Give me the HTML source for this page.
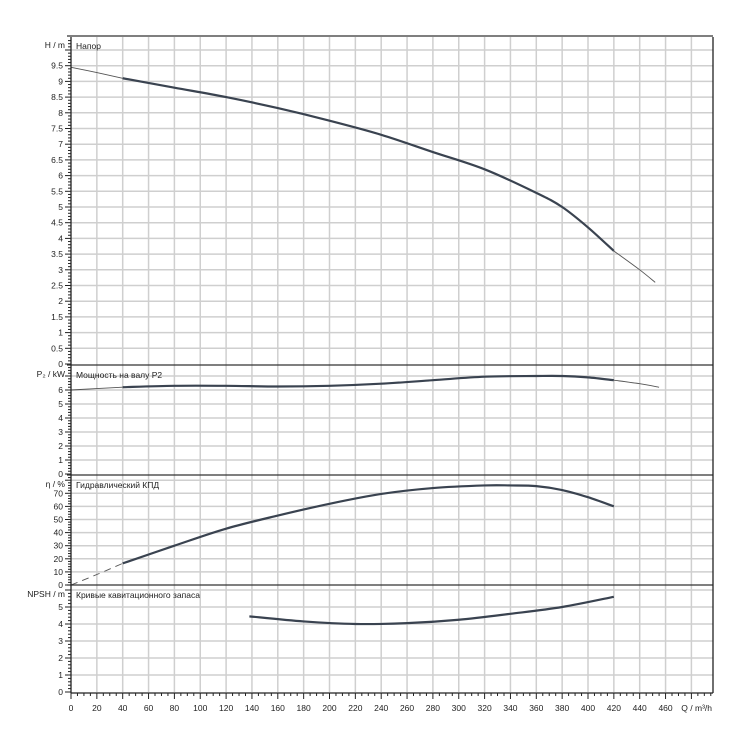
<!DOCTYPE html>
<html><head><meta charset="utf-8"><style>
body{margin:0;background:#fff}svg{display:block;font-family:"Liberation Sans",Arial,sans-serif}
</style></head><body>
<svg id="c" width="750" height="750"></svg>
<script>
const qTicks=[0,20,40,60,80,100,120,140,160,180,200,220,240,260,280,300,320,340,360,380,400,420,440,460];
const hQ=[0,20,40,80,120,160,200,240,280,320,360,380,400,420,440,452];
const hV=[9.45,9.28,9.1,8.8,8.5,8.15,7.75,7.3,6.75,6.2,5.45,5.0,4.35,3.6,3.0,2.6];
const pQ=[0,20,40,80,120,160,200,240,280,320,360,380,400,420,440,455];
const pV=[6.0,6.1,6.2,6.3,6.3,6.25,6.3,6.45,6.7,6.95,7.0,7.0,6.9,6.7,6.45,6.2];
const eQ=[0,20,40,80,120,160,200,240,280,320,340,360,380,400,420];
const eV=[0,8,16.5,30,43,53,62,69.5,74,76,76,75.5,72.5,67,60];
const nQ=[138,180,220,260,300,340,380,420];
const nV=[4.45,4.15,4.0,4.05,4.25,4.6,5.0,5.6];
const hTicks=[0,0.5,1,1.5,2,2.5,3,3.5,4,4.5,5,5.5,6,6.5,7,7.5,8,8.5,9,9.5];
const pTicks=[0,1,2,3,4,5,6];
const eTicks=[0,10,20,30,40,50,60,70];
const nTicks=[0,1,2,3,4,5];

const svg=document.getElementById('c');const NS='http://www.w3.org/2000/svg';
function mk(t,a,p){const e=document.createElementNS(NS,t);for(const k in a)e.setAttribute(k,a[k]);(p||svg).appendChild(e);return e;}
const X0=71,X1=713,KX=1.2925;const xs=q=>X0+q*KX;
const panels=[
 {name:'head',top:37,zero:364,k:31.4,ticks:hTicks,nm:5,grid:0.5,label:'Напор',ax:'H / m',Q:hQ,V:hV,a:40,b:420},
 {name:'power',top:366,zero:474,k:14,ticks:pTicks,nm:5,grid:1,label:'Мощность на валу P2',ax:'P₂ / kW',Q:pQ,V:pV,a:40,b:420},
 {name:'efficiency',top:476,zero:585,k:1.31,ticks:eTicks,nm:5,grid:10,label:'Гидравлический КПД',ax:'η / %',Q:eQ,V:eV,a:40,b:9999,dash:true},
 {name:'npsh',top:586,zero:692,k:17,ticks:nTicks,nm:5,grid:1,label:'Кривые кавитационного запаса',ax:'NPSH / m',Q:nQ,V:nV,a:0,b:9999}
];
function pathD(P){let d='M'+P[0][0]+','+P[0][1];
 for(let i=0;i<P.length-1;i++){const p0=P[i-1]||P[i],p1=P[i],p2=P[i+1],p3=P[i+2]||p2;
  const c1=[p1[0]+(p2[0]-p0[0])/6,p1[1]+(p2[1]-p0[1])/6],c2=[p2[0]-(p3[0]-p1[0])/6,p2[1]-(p3[1]-p1[1])/6];
  d+=' C'+c1.join(',')+' '+c2.join(',')+' '+p2.join(',');}return d;}
for(let q=20;q*KX+X0<X1;q+=20){const l=mk('line',{x1:xs(q),x2:xs(q),y1:37,y2:692,stroke:'#cfcfcf','stroke-width':1.5});
}
panels.forEach(p=>{
 const ys=v=>p.zero-v*p.k;
 const g=mk('g',{});
 for(let i=1;ys(i*p.grid)>p.top+2;i++){const y=ys(i*p.grid);mk('line',{x1:X0,x2:X1,y1:y,y2:y,stroke:'#cfcfcf','stroke-width':1.5},g);}
 for(let j=0;ys(j*p.grid/p.nm)>p.top+1;j++){const y=ys(j*p.grid/p.nm),big=j%p.nm===0;
  mk('line',{x1:X0-(big?6:3),x2:X0,y1:y,y2:y,stroke:'#222','stroke-width':1},g);}
 p.ticks.forEach(v=>{const t=mk('text',{x:X0-8,y:ys(v)+3,'text-anchor':'end','font-size':8.5,fill:'#222'},g);t.textContent=v;
  });
 const at=mk('text',{x:X0-6,y:p.top+11,'text-anchor':'end','font-size':8.5,fill:'#222'},g);at.textContent=p.ax;
 
 const lt=mk('text',{x:X0+5,y:p.top+12,'font-size':8.5,fill:'#222'},g);lt.textContent=p.label;
 
 mk('line',{x1:X0-4,x2:X1,y1:p.top-1,y2:p.top-1,stroke:'#333','stroke-width':1.3},g);
 const pts=p.Q.map((q,i)=>[xs(q),ys(p.V[i])]);
 const ia=p.Q.findIndex(q=>q>=p.a),ibRaw=p.Q.findIndex(q=>q>=p.b),ib=ibRaw<0?pts.length-1:ibRaw;
 const parts=[[0,ia,false],[ia,ib,true],[ib,pts.length-1,false]];
 parts.forEach(([s,e,thick])=>{if(e-s<1)return;
  const el=mk('path',{d:pathD(pts.slice(s,e+1)),fill:'none',stroke:thick?'#3a4350':'#555','stroke-width':thick?2.2:0.9,'stroke-dasharray':(!thick&&p.dash)?'7,5':'none'},g);
  });
});
mk('line',{x1:X0,x2:X0,y1:37,y2:693,stroke:'#222','stroke-width':1.3});
mk('line',{x1:X1,x2:X1,y1:37,y2:693,stroke:'#222','stroke-width':1.3});
mk('line',{x1:X0,x2:X1,y1:693,y2:693,stroke:'#222','stroke-width':1.3});
for(let q=0;xs(q)<=X1;q+=5){mk('line',{x1:xs(q),x2:xs(q),y1:693,y2:q%20===0?699:696,stroke:'#222','stroke-width':1});}
qTicks.forEach(q=>{const t=mk('text',{x:xs(q),y:711,'text-anchor':'middle','font-size':8.5,fill:'#222'});t.textContent=q;
 });
const xt=mk('text',{x:712,y:711,'text-anchor':'end','font-size':8.5,fill:'#222'});xt.textContent='Q / m³/h';

</script>
</body></html>
